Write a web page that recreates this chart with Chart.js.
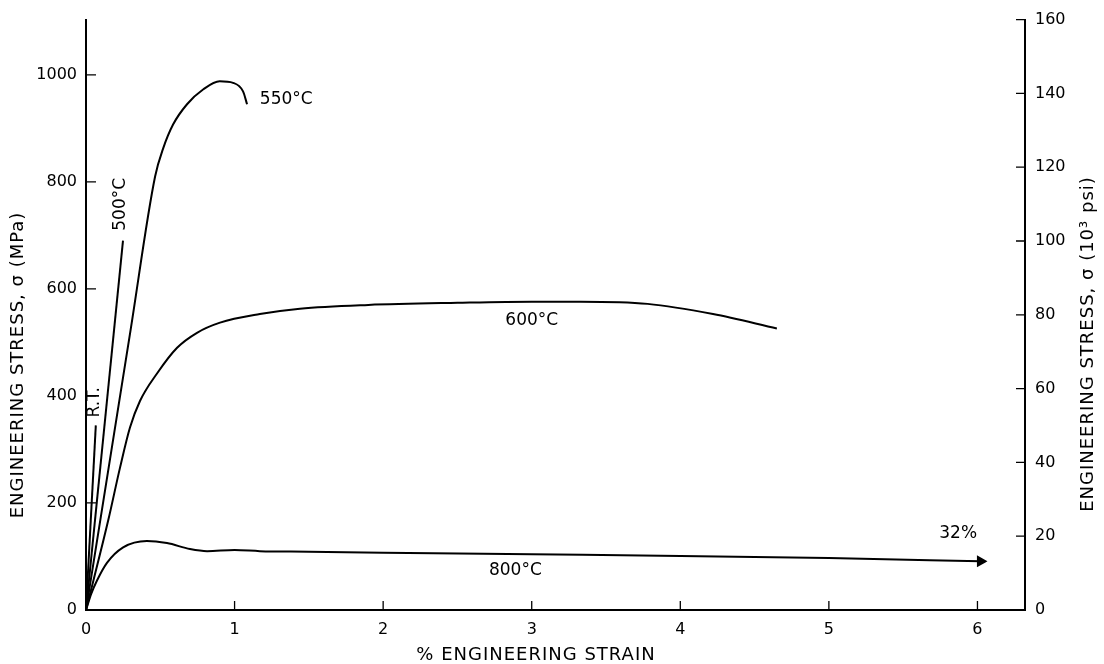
<!DOCTYPE html>
<html>
<head>
<meta charset="utf-8">
<script src="https://cdn.jsdelivr.net/npm/chart.js@4/dist/chart.umd.min.js"></script>
<style>
  html, body { margin: 0; padding: 0; background: #fff; }
  #wrap { width: 1104px; height: 664px; position: relative; }
</style>
</head>
<body>
<div id="wrap"><canvas id="c"></canvas></div>
<script>
// strain (%) / stress (MPa)
const rtStrain = [0, 0.066];
const rtStress = [0, 345];

const s500Strain = [0, 0.249];
const s500Stress = [0, 690];

const s550Strain = [0, 0.3, 0.465, 0.52, 0.586, 0.68, 0.79, 0.9, 0.99, 1.057, 1.084];
const s550Stress = [0, 523, 810, 863, 907, 945, 973, 988, 985, 969, 945];

const s600Strain = [0, 0.15, 0.229, 0.296, 0.364, 0.478, 0.613, 0.747, 0.902, 1.17, 1.44, 1.9, 2.5, 3.0, 3.33, 3.78, 4.22, 4.65];
const s600Stress = [0, 168, 266, 341, 391, 442, 490, 518, 537, 553, 563, 570, 574, 576, 576, 572, 553, 526];

const s800Strain = [0, 0.035, 0.074, 0.141, 0.25, 0.41, 0.545, 0.7, 0.815, 1.0, 1.17, 1.5, 2, 3, 4, 5, 6.02];
const s800Stress = [0, 30, 55, 88, 117, 129, 125, 114, 110, 112, 110, 109, 107, 104, 101, 97, 91];

// axis ticks
const strainTicks = [0, 1, 2, 3, 4, 5, 6];
const mpaTicks = [0, 200, 400, 600, 800, 1000];
const ksiTicks = [0, 20, 40, 60, 80, 100, 120, 140, 160];

// curve labels: [text, strain, stress, rotated, align]
const curveLabels = [
  ["550°C", 1.17, 954, false, "left"],
  ["500°C", 0.236, 758, true, "center"],
  ["R.T.", 0.06, 388, true, "center"],
  ["600°C", 3.0, 540, false, "center"],
  ["800°C", 2.89, 73, false, "center"],
  ["32%", 5.87, 142, false, "center"],
];

const KSI_TO_MPA = 6.894757;
const FONT = "'DejaVu Sans', sans-serif";

function pts(xs, ys) {
  return xs.map((x, i) => ({ x: x, y: ys[i] }));
}

function lineSet(label, xs, ys) {
  return {
    label: label,
    data: pts(xs, ys),
    borderColor: "#000",
    borderWidth: 2,
    pointRadius: 0,
    fill: false,
    cubicInterpolationMode: "monotone",
    yAxisID: "y",
  };
}

// 800°C curve ends with an arrow head (runs on to 32 %)
const arrowSet = lineSet("800°C", s800Strain, s800Stress);
arrowSet.pointRadius = s800Strain.map((v, i) => (i === s800Strain.length - 1 ? 5 : 0));
arrowSet.pointStyle = "triangle";
arrowSet.rotation = 90;
arrowSet.pointBackgroundColor = "#000";
arrowSet.pointBorderColor = "#000";

const data = {
  datasets: [
    lineSet("R.T.", rtStrain, rtStress),
    lineSet("500°C", s500Strain, s500Stress),
    lineSet("550°C", s550Strain, s550Stress),
    lineSet("600°C", s600Strain, s600Stress),
    arrowSet,
  ],
};

// inward tick marks, curve labels and axis titles
const extras = {
  id: "extras",
  afterDraw(chart) {
    const ctx = chart.ctx;
    const { x, y, y2 } = chart.scales;
    const a = chart.chartArea;
    ctx.save();
    ctx.strokeStyle = "#000";
    ctx.lineWidth = 1.3;
    ctx.beginPath();
    strainTicks.forEach((v) => {
      if (v === 0) return;
      const px = x.getPixelForValue(v);
      ctx.moveTo(px, a.bottom); ctx.lineTo(px, a.bottom - 9);
    });
    mpaTicks.forEach((v) => {
      if (v === 0) return;
      const py = y.getPixelForValue(v);
      ctx.moveTo(a.left, py); ctx.lineTo(a.left + 10, py);
    });
    ksiTicks.forEach((v) => {
      if (v === 0) return;
      const py = y2.getPixelForValue(v);
      ctx.moveTo(a.right, py); ctx.lineTo(a.right - 9, py);
    });
    ctx.stroke();

    ctx.fillStyle = "#000";
    ctx.font = "17px " + FONT;
    ctx.textBaseline = "middle";
    curveLabels.forEach(([t, sx, sy, rot, align]) => {
      const px = x.getPixelForValue(sx);
      const py = y.getPixelForValue(sy);
      ctx.save();
      ctx.translate(px, py);
      if (rot) ctx.rotate(-Math.PI / 2);
      ctx.textAlign = align;
      ctx.fillText(t, 0, 0);
      ctx.restore();
    });

    // axis titles
    ctx.font = "18px " + FONT;
    ctx.letterSpacing = "1px";
    ctx.textAlign = "center";
    ctx.save();
    ctx.translate(18, 365);
    ctx.rotate(-Math.PI / 2);
    ctx.fillText("ENGINEERING STRESS, σ (MPa)", 0, 0);
    ctx.restore();
    ctx.save();
    ctx.translate(1088, 344);
    ctx.rotate(-Math.PI / 2);
    ctx.fillText("ENGINEERING STRESS, σ (10³ psi)", 0, 0);
    ctx.restore();
    ctx.fillText("% ENGINEERING STRAIN", 536, 655);
    ctx.restore();
  },
};

const tickFont = { size: 16, family: FONT };

const config = {
  type: "line",
  data: data,
  options: {
    responsive: true,
    maintainAspectRatio: false,
    animation: false,
    layout: { padding: { top: 15, left: 0, right: 0, bottom: 0 } },
    plugins: {
      legend: { display: false },
      tooltip: { enabled: false },
    },
    scales: {
      x: {
        type: "linear",
        min: 0,
        max: 6.32,
        grid: { drawOnChartArea: false, drawTicks: false },
        border: { color: "#000", width: 2 },
        ticks: {
          stepSize: 1,
          includeBounds: false,
          color: "#000",
          font: tickFont,
          padding: 10,
          callback: (v) => (strainTicks.includes(v) ? String(v) : ""),
        },
        afterFit: (s) => { s.height = 54; },
      },
      y: {
        type: "linear",
        position: "left",
        min: 0,
        max: 160 * KSI_TO_MPA,
        grid: { drawOnChartArea: false, drawTicks: false },
        border: { color: "#000", width: 2 },
        ticks: {
          stepSize: 200,
          includeBounds: false,
          color: "#000",
          font: tickFont,
          padding: 9,
          callback: (v) => (mpaTicks.includes(v) ? String(v) : ""),
        },
        afterFit: (s) => { s.width = 86; },
      },
      y2: {
        type: "linear",
        position: "right",
        min: 0,
        max: 160,
        grid: { drawOnChartArea: false, drawTicks: false },
        border: { color: "#000", width: 2 },
        ticks: {
          stepSize: 20,
          color: "#000",
          font: tickFont,
          padding: 10,
          callback: (v) => (ksiTicks.includes(v) ? String(v) : ""),
        },
        afterFit: (s) => { s.width = 79; },
      },
    },
  },
  plugins: [extras],
};

const ctx = document.getElementById("c").getContext("2d");
const stressChart = new Chart(ctx, config);
</script>
</body>
</html>
